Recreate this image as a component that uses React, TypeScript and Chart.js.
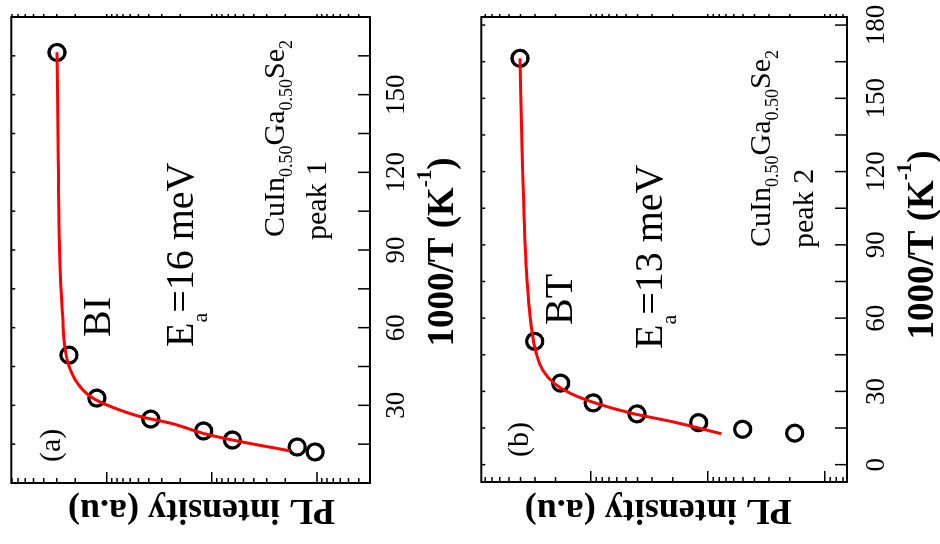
import React, { useEffect, useRef } from 'react';
import { Chart, registerables } from 'chart.js';

Chart.register(...registerables);

// Peak 1: integrated PL intensity versus inverse temperature
const INV_T_A = [166.3, 49.4, 32.8, 24.7, 20.1, 16.6, 13.9, 12.0];
const PL_A = [2985, 2296, 1245, 382, 120, 63.7, 15.4, 10.4];
const FIT_INV_T_A = [12.4, 16.5, 19.1, 23.1, 25.6, 29.5, 33.3, 38.5, 44.9, 49.4, 55.2, 64.2, 81.4, 124.7, 166.4];
const FIT_PL_A = [17.9, 61.8, 119, 247, 475, 916, 1420, 1900, 2280, 2443, 2565, 2636, 2780, 2904, 2985];

// Peak 2
const INV_T_B = [166.4, 50.5, 33.4, 25.3, 20.8, 17.2, 14.5, 12.9];
const PL_B = [4030, 3020, 1814, 955, 403, 120, 50.5, 18.1];
const FIT_INV_T_B = [12.65, 17.4, 21.0, 25.1, 29.2, 33.3, 38.7, 45.6, 56.5, 78.9, 121.9, 166.4];
const FIT_PL_B = [76.5, 193, 444, 897, 1497, 2058, 2576, 2930, 3225, 3548, 3832, 4030];

// 1000/T axis
const TICK_LABELS_A = [30, 60, 90, 120, 150];
const TICK_LABELS_B = [0, 30, 60, 90, 120, 150, 180];
const TICK_MARKS_T = [0, 15, 30, 45, 60, 75, 90, 105, 120, 135, 150, 165, 180];

const SERIF = '"Liberation Serif", "Times New Roman", serif';
const W = 544;
const H = 470;

type Run = { t: string; size: number; dy?: number; bold?: boolean };
type Label = { runs: Run[]; x: number; y: number; align?: 'left' | 'center'; rotate?: boolean };

const fontOf = (size: number, bold?: boolean) => `${bold ? 'bold ' : ''}${size}px ${SERIF}`;

function drawRuns(ctx: CanvasRenderingContext2D, runs: Run[], x: number, y: number, align: 'left' | 'center') {
  let w = 0;
  for (const r of runs) {
    ctx.font = fontOf(r.size, r.bold);
    w += ctx.measureText(r.t).width;
  }
  let cx = align === 'center' ? x - w / 2 : x;
  ctx.textAlign = 'left';
  ctx.textBaseline = 'alphabetic';
  for (const r of runs) {
    ctx.font = fontOf(r.size, r.bold);
    ctx.fillText(r.t, cx, y + (r.dy || 0));
    cx += ctx.measureText(r.t).width;
  }
}

const compound = (size: number, sub: number, dy: number): Run[] => [
  { t: 'CuIn', size },
  { t: '0.50', size: sub, dy },
  { t: 'Ga', size },
  { t: '0.50', size: sub, dy },
  { t: 'Se', size },
  { t: '2', size: sub, dy },
];

const xTitle: Run[] = [
  { t: '1000/T (K', size: 37, bold: true },
  { t: '-1', size: 21, bold: true, dy: -22 },
  { t: ')', size: 37, bold: true },
];
const yTitle: Run[] = [{ t: 'PL intensity (a.u)', size: 36, bold: true }];

const ea = (value: string): Run[] => [
  { t: 'E', size: 40 },
  { t: 'a', size: 22, dy: 14 },
  { t: '=' + value + ' meV', size: 40 },
];

type PanelCfg = {
  invT: number[];
  pl: number[];
  fitInvT: number[];
  fitPl: number[];
  tickLabels: number[];
  xMin: number;
  xMax: number;
  yMin: number;
  yMax: number;
  top: number;
  bottom: number;
  left: number;
  tickPad: number;
  labels: Label[];
};

const PANEL_A: PanelCfg = {
  invT: INV_T_A,
  pl: PL_A,
  fitInvT: FIT_INV_T_A,
  fitPl: FIT_PL_A,
  tickLabels: TICK_LABELS_A,
  xMin: 0,
  xMax: 180,
  yMin: 3.12,
  yMax: 8128,
  top: 10,
  bottom: 370,
  left: 61,
  tickPad: 11,
  labels: [
    { runs: [{ t: '(a)', size: 30 }], x: 82, y: 59.5 },
    { runs: [{ t: 'BI', size: 40 }], x: 207, y: 110 },
    { runs: ea('16'), x: 197, y: 193 },
    { runs: compound(30, 18, 8), x: 307, y: 284 },
    { runs: [{ t: 'peak 1', size: 30 }], x: 304, y: 326 },
    { runs: xTitle, x: 292, y: 453, align: 'center' },
    { runs: yTitle, x: 44, y: 201.5, align: 'center', rotate: true },
  ],
};

const PANEL_B: PanelCfg = {
  invT: INV_T_B,
  pl: PL_B,
  fitInvT: FIT_INV_T_B,
  fitPl: FIT_PL_B,
  tickLabels: TICK_LABELS_B,
  xMin: -7.1,
  xMax: 183.3,
  yMin: 6.47,
  yMax: 8630,
  top: 2,
  bottom: 377,
  left: 62,
  tickPad: 14,
  labels: [
    { runs: [{ t: '(b)', size: 30 }], x: 87, y: 57.6 },
    { runs: [{ t: 'BT', size: 40 }], x: 219, y: 102 },
    { runs: ea('13'), x: 195, y: 192 },
    { runs: compound(30, 18, 8), x: 297, y: 300 },
    { runs: [{ t: 'peak 2', size: 30 }], x: 296, y: 343 },
    { runs: xTitle, x: 299, y: 463, align: 'center' },
    { runs: yTitle, x: 44, y: 188.3, align: 'center', rotate: true },
  ],
};

function framePlugin() {
  return {
    id: 'frame',
    afterDraw(chart: any) {
      const { ctx, chartArea: a, scales } = chart;
      const xs = scales.x;
      const ys = scales.y;
      ctx.save();
      ctx.strokeStyle = '#000';
      ctx.lineWidth = 1.5;
      ctx.beginPath();
      for (const t of TICK_MARKS_T) {
        const px = xs.getPixelForValue(t);
        if (px < a.left - 0.5 || px > a.right + 0.5) continue;
        ctx.moveTo(px, a.bottom);
        ctx.lineTo(px, a.bottom - 12);
        ctx.moveTo(px, a.top);
        ctx.lineTo(px, a.top + 4);
      }
      for (let e = 0; e <= 4; e++) {
        for (let m = 1; m <= 9; m++) {
          const v = m * Math.pow(10, e);
          if (v < ys.min || v > ys.max) continue;
          const py = ys.getPixelForValue(v);
          const len = m === 1 ? 11 : 5;
          ctx.moveTo(a.left, py);
          ctx.lineTo(a.left + len, py);
          ctx.moveTo(a.right, py);
          ctx.lineTo(a.right + 3, py);
        }
      }
      ctx.stroke();
      ctx.lineWidth = 2;
      ctx.strokeRect(a.left, a.top, a.right - a.left, a.bottom - a.top);
      ctx.restore();
    },
  };
}

function textPlugin(labels: Label[]) {
  return {
    id: 'texts',
    afterDraw(chart: any) {
      const ctx: CanvasRenderingContext2D = chart.ctx;
      ctx.save();
      ctx.fillStyle = '#000';
      for (const l of labels) {
        if (l.rotate) {
          ctx.save();
          ctx.translate(l.x, l.y);
          ctx.rotate(-Math.PI / 2);
          drawRuns(ctx, l.runs, 0, 0, l.align || 'left');
          ctx.restore();
        } else {
          drawRuns(ctx, l.runs, l.x, l.y, l.align || 'left');
        }
      }
      ctx.restore();
    },
  };
}

function Panel({ cfg }: { cfg: PanelCfg }) {
  const ref = useRef<HTMLCanvasElement>(null);
  useEffect(() => {
    const points = cfg.invT.map((x, i) => ({ x, y: cfg.pl[i] }));
    const fit = cfg.fitInvT.map((x, i) => ({ x, y: cfg.fitPl[i] }));
    const chart = new Chart(ref.current as HTMLCanvasElement, {
      type: 'scatter',
      data: {
        datasets: [
          {
            data: fit,
            showLine: true,
            borderColor: '#ff0000',
            borderWidth: 3,
            pointRadius: 0,
            cubicInterpolationMode: 'monotone',
            order: 0,
          } as any,
          {
            data: points,
            pointStyle: 'circle',
            pointRadius: 8,
            borderWidth: 3.3,
            borderColor: '#000',
            backgroundColor: 'rgba(0,0,0,0)',
            order: 1,
          } as any,
        ],
      },
      options: {
        responsive: false,
        animation: false,
        devicePixelRatio: 1,
        events: [],
        layout: { padding: { top: cfg.top, right: W - 527, left: 0, bottom: 0 } },
        plugins: { legend: { display: false }, tooltip: { enabled: false } },
        scales: {
          x: {
            type: 'linear',
            min: cfg.xMin,
            max: cfg.xMax,
            grid: { display: false, drawTicks: false },
            border: { display: false },
            afterBuildTicks: (s: any) => {
              s.ticks = cfg.tickLabels.map((v) => ({ value: v }));
            },
            afterFit: (s: any) => {
              s.height = H - cfg.bottom;
              s.paddingLeft = 0;
              s.paddingRight = 0;
            },
            ticks: {
              padding: cfg.tickPad,
              autoSkip: false,
              minRotation: 0,
              maxRotation: 0,
              color: '#000',
              font: { family: SERIF, size: 27 },
              callback: (v: any) => String(v),
            },
          },
          y: {
            type: 'logarithmic',
            min: cfg.yMin,
            max: cfg.yMax,
            grid: { display: false, drawTicks: false },
            border: { display: false },
            ticks: { display: false },
            afterFit: (s: any) => {
              s.width = cfg.left;
            },
          },
        },
      } as any,
      plugins: [framePlugin(), textPlugin(cfg.labels)],
    });
    return () => chart.destroy();
  }, [cfg]);
  return <canvas ref={ref} width={W} height={H} style={{ display: 'block', width: W, height: H }} />;
}

export default function App() {
  return (
    <div
      style={{
        position: 'absolute',
        left: 0,
        top: 0,
        width: 940,
        height: 544,
        overflow: 'hidden',
        background: '#fff',
      }}
    >
      <div
        style={{
          position: 'absolute',
          left: 0,
          top: 0,
          width: W,
          height: 2 * H,
          transformOrigin: '0 0',
          transform: `translateY(${W}px) rotate(-90deg)`,
        }}
      >
        <Panel cfg={PANEL_A} />
        <Panel cfg={PANEL_B} />
      </div>
    </div>
  );
}
